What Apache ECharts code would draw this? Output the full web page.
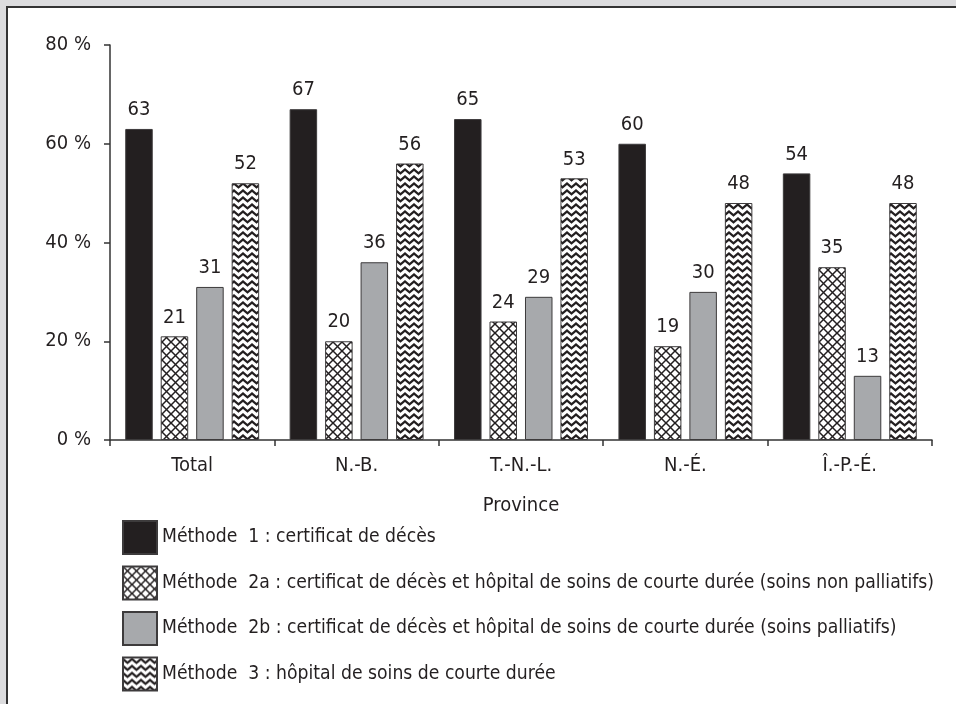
<!DOCTYPE html>
<html>
<head>
<meta charset="utf-8">
<script src="https://cdn.jsdelivr.net/npm/echarts@6/dist/echarts.min.js"></script>
<style>
  html, body { margin: 0; padding: 0; background: #dcdcde; overflow: hidden; }
  #frame { position: absolute; left: 6px; top: 6px; width: 960px; height: 710px;
           background: #ffffff; border-left: 2px solid #333333; border-top: 2px solid #333333; }
  #chart { position: absolute; left: 0; top: 0; width: 956px; height: 704px; }
</style>
</head>
<body>
<div id="frame"></div>
<div id="chart"></div>
<script>
// Provinces on the category axis
const categories = ['Total', 'N.-B.', 'T.-N.-L.', 'N.-É.', 'Î.-P.-É.'];

// Share of deaths (%) identified by each method
const method1  = [63, 67, 65, 60, 54];
const method2a = [21, 20, 24, 19, 35];
const method2b = [31, 36, 29, 30, 13];
const method3  = [52, 56, 53, 48, 48];

const seriesNames = [
  'Méthode  1 : certificat de décès',
  'Méthode  2a : certificat de décès et hôpital de soins de courte durée (soins non palliatifs)',
  'Méthode  2b : certificat de décès et hôpital de soins de courte durée (soins palliatifs)',
  'Méthode  3 : hôpital de soins de courte durée'
];

const yMin = 0, yMax = 80, yStep = 20;
const xAxisTitle = 'Province';

// Pick a condensed face if one is installed
function pickFont(list) {
  const c = document.createElement('canvas').getContext('2d');
  const probe = 'Méthode 2a : certificat de décès';
  c.font = '40px monospace';
  const base = c.measureText(probe).width;
  for (const f of list) {
    c.font = '40px "' + f + '", monospace';
    if (Math.abs(c.measureText(probe).width - base) > 0.5) return f;
  }
  return 'Liberation Sans';
}
const FONT = pickFont(['Liberation Sans Narrow', 'Arial Narrow', 'DejaVu Sans Condensed', 'Roboto Condensed']);
const FS = 20;
const LEGEND_FS = 19.2;

const INK = '#231f20';
const EDGE = '#3d3b3c';

// Diamond cross-hatch tile
function crossHatch() {
  const s = 9, cv = document.createElement('canvas');
  cv.width = s; cv.height = s;
  const g = cv.getContext('2d');
  g.fillStyle = '#ffffff'; g.fillRect(0, 0, s, s);
  g.strokeStyle = INK; g.lineWidth = 1.5;
  for (let k = -1; k <= 1; k++) {
    g.beginPath(); g.moveTo(k * s - 1, -1); g.lineTo(k * s + s + 1, s + 1); g.stroke();
    g.beginPath(); g.moveTo(k * s + s + 1, -1); g.lineTo(k * s - 1, s + 1); g.stroke();
  }
  return cv;
}

// Horizontal zigzag tile
function zigzag() {
  const w = 9, h = 7, amp = 3.8, cv = document.createElement('canvas');
  cv.width = w; cv.height = h * 2;
  const g = cv.getContext('2d');
  g.fillStyle = '#ffffff'; g.fillRect(0, 0, w, h * 2);
  g.strokeStyle = INK; g.lineWidth = 2.2; g.lineJoin = 'miter';
  for (let r = -1; r <= 3; r++) {
    const y0 = r * h + 1.5;
    g.beginPath();
    g.moveTo(-w / 2, y0 + amp);
    g.lineTo(0, y0);
    g.lineTo(w / 2, y0 + amp);
    g.lineTo(w, y0);
    g.lineTo(w * 1.5, y0 + amp);
    g.stroke();
  }
  return cv;
}

const chart = echarts.init(document.getElementById('chart'), null, { renderer: 'canvas' });

const labelStyle = {
  show: true, position: 'top', distance: 7,
  fontSize: FS, lineHeight: 24, color: INK, fontFamily: FONT
};

function barSeries(name, data, itemStyle) {
  return {
    name: name, type: 'bar', data: data,
    barWidth: 27.5, barGap: '29%',
    itemStyle: Object.assign({ borderColor: EDGE, borderWidth: 1 }, itemStyle),
    label: labelStyle,
    emphasis: { disabled: true },
    animation: false
  };
}

chart.setOption({
  backgroundColor: 'transparent',
  animation: false,
  textStyle: { fontFamily: FONT, color: INK },
  grid: { left: 110, right: 24, top: 45, bottom: 264, containLabel: false },
  legend: {
    orient: 'vertical', left: 122, top: 520, padding: 0,
    itemWidth: 34, itemHeight: 33, itemGap: 10.5,
    icon: 'rect',
    selectedMode: false,
    textStyle: { fontSize: LEGEND_FS, color: INK, fontFamily: FONT }
  },
  xAxis: {
    type: 'category', data: categories,
    axisLine: { lineStyle: { color: '#333333', width: 1.5 } },
    axisTick: { show: true, length: 6, alignWithLabel: false, lineStyle: { color: '#333333', width: 1.5 } },
    axisLabel: { fontSize: FS, color: INK, margin: 16, fontFamily: FONT },
    name: xAxisTitle, nameLocation: 'middle', nameGap: 56,
    nameTextStyle: { fontSize: FS, color: INK, fontFamily: FONT }
  },
  yAxis: {
    type: 'value', min: yMin, max: yMax, interval: yStep,
    axisLine: { show: true, lineStyle: { color: '#333333', width: 1.5 } },
    axisTick: { show: true, length: 6, lineStyle: { color: '#333333', width: 1.5 } },
    splitLine: { show: false },
    axisLabel: { fontSize: FS, color: INK, margin: 19, fontFamily: FONT, formatter: '{value} %' }
  },
  series: [
    barSeries(seriesNames[0], method1, { color: INK }),
    barSeries(seriesNames[1], method2a, { color: { image: crossHatch(), repeat: 'repeat' } }),
    barSeries(seriesNames[2], method2b, { color: '#a7a9ac' }),
    barSeries(seriesNames[3], method3, { color: { image: zigzag(), repeat: 'repeat' } })
  ]
});
</script>
</body>
</html>
